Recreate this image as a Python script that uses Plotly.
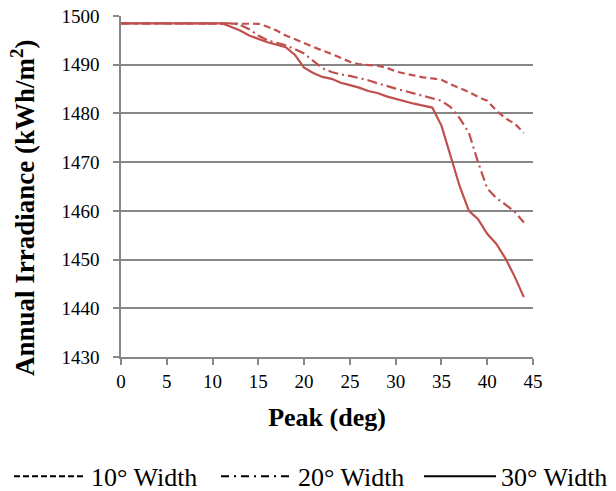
import plotly.graph_objects as go

peak_deg = list(range(0, 45))

width_10 = [1498.5]*15 + [
    1498.4, 1497.8, 1497.0, 1496.0, 1495.2, 1494.4, 1493.6, 1492.9, 1492.2, 1491.4,
    1490.6, 1490.1, 1490.0, 1489.8, 1489.4, 1488.6, 1488.2, 1487.8, 1487.4, 1487.2,
    1486.9, 1486.0, 1485.2, 1484.4, 1483.4, 1482.6, 1480.6, 1479.0, 1477.9, 1476.0]

width_20 = [1498.5]*13 + [
    1498.2, 1497.3, 1496.0, 1495.0, 1494.5, 1494.0, 1493.2, 1492.3, 1490.8, 1489.3,
    1488.5, 1488.0, 1487.7, 1487.3, 1486.8, 1486.2, 1485.6, 1485.1, 1484.6, 1484.1,
    1483.7, 1483.2, 1482.6, 1481.3, 1479.0, 1476.0, 1470.0, 1464.6, 1462.6, 1461.3,
    1459.8, 1457.6]

width_30 = [1498.5]*12 + [
    1497.8, 1497.0, 1496.0, 1495.3, 1494.6, 1494.1, 1493.6, 1492.0, 1489.4, 1488.3,
    1487.5, 1487.1, 1486.3, 1485.8, 1485.3, 1484.6, 1484.2, 1483.5, 1483.0, 1482.4,
    1482.0, 1481.6, 1481.2, 1477.5, 1471.5, 1465.0, 1460.0, 1458.3, 1455.3, 1453.2,
    1450.2, 1446.5, 1442.3]

series_names = ["10° Width", "20° Width", "30° Width"]
series_values = [width_10, width_20, width_30]
dash_styles = ["7px,4px", "10px,4px,2px,4px", "solid"]
legend_ids = ["legend", "legend2", "legend3"]

LINE_COLOR = "#C0504D"
GRID = "#868686"
FONT = "Liberation Serif, Times New Roman, serif"

fig = go.Figure()
for name, vals, dash in zip(series_names, series_values, dash_styles):
    fig.add_trace(go.Scatter(x=peak_deg, y=vals, mode="lines", name=name,
                             line=dict(color=LINE_COLOR, width=2.2, dash=dash),
                             showlegend=False))
# legend-only entries drawn in black, as in the reference
legend_dash = ["6px,3px", "8px,5px,2px,5px", "solid"]
for name, dash, lg in zip(series_names, legend_dash, legend_ids):
    fig.add_trace(go.Scatter(x=[None], y=[None], mode="lines", name=name,
                             line=dict(color="black", width=2, dash=dash),
                             showlegend=True, legend=lg))

legend_x = [9, 216, 419]
common_legend = dict(orientation="h", xref="container", yref="container",
                     xanchor="left", y=0.03, yanchor="middle",
                     font=dict(size=26), itemwidth=72, bgcolor="rgba(0,0,0,0)")

fig.update_layout(
    width=616, height=491,
    margin=dict(l=121, r=83, t=16, b=134, autoexpand=False),
    plot_bgcolor="white", paper_bgcolor="white",
    font=dict(family=FONT, size=19, color="black"),
    legend=dict(x=legend_x[0]/616, **common_legend),
    legend2=dict(x=legend_x[1]/616, **common_legend),
    legend3=dict(x=legend_x[2]/616, **common_legend),
    annotations=[dict(
        text="<b>Annual Irradiance (kWh/m<sup>2</sup>)</b>",
        xref="paper", yref="paper", x=(23 - 121) / 412, y=(357 - 208) / 341,
        xanchor="center", yanchor="middle", textangle=-90, showarrow=False,
        font=dict(size=27))],
)
fig.update_xaxes(
    range=[0, 45], tickmode="array", tickvals=list(range(0, 46, 5)),
    showgrid=False, showline=True, linecolor=GRID, linewidth=1.5,
    ticks="outside", ticklen=6, tickcolor=GRID, tickwidth=1.5,
    zeroline=False, automargin=False,
    title=dict(text="<b>Peak (deg)</b>", font=dict(size=26), standoff=17),
)
fig.update_yaxes(
    range=[1430, 1500], tickmode="array", tickvals=list(range(1430, 1501, 10)),
    showgrid=True, gridcolor=GRID, gridwidth=1.5,
    showline=True, linecolor=GRID, linewidth=1.5,
    ticks="outside", ticklen=6, tickcolor=GRID, tickwidth=1.5,
    zeroline=False, automargin=False, ticklabelstandoff=10,
)

fig.write_html("out.html", config={"displayModeBar": False},
               post_script="document.body.style.margin='0';document.body.style.overflow='hidden';")
